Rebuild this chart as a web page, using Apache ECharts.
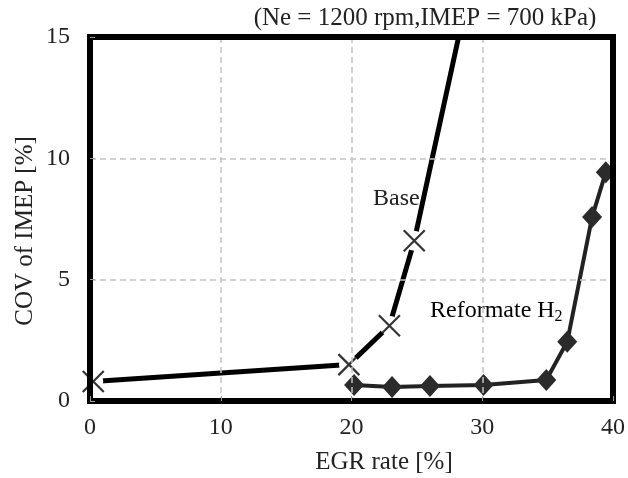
<!DOCTYPE html>
<html><head><meta charset="utf-8">
<script src="https://cdn.jsdelivr.net/npm/echarts@6/dist/echarts.min.js"></script>
<style>html,body{margin:0;padding:0;background:#fff}#c{width:628px;height:478px}</style>
</head><body><div id="c"></div>
<script>
const baseX = [0.25, 19.8, 22.9, 24.8, 29.0];
const baseY = [0.8, 1.5, 3.1, 6.6, 17.0];
const refX = [20.2, 23.1, 26.0, 30.1, 34.9, 36.5, 38.4, 39.45];
const refY = [0.66, 0.58, 0.62, 0.66, 0.87, 2.44, 7.58, 9.43];
const xTicks = [0, 10, 20, 30, 40];
const yTicks = [0, 5, 10, 15];
const titleText = '(Ne = 1200 rpm,IMEP = 700 kPa)';
const xName = 'EGR rate [%]';
const yName = 'COV of IMEP [%]';

const FONT = '"Liberation Serif", "DejaVu Serif", serif';
const pair = (xs, ys) => xs.map((x, i) => [x, ys[i]]);
const baseData = pair(baseX, baseY);
const refData = pair(refX, refY);
const xMark = 'path://M0,0L10,10M10,0L0,10';
const frameLine = {show: true, onZero: false, lineStyle: {color: '#000', width: 6, cap: 'square'}};
const xMin = xTicks[0], xMax = xTicks[xTicks.length - 1];
const yMin = yTicks[0], yMax = yTicks[yTicks.length - 1];

const chart = echarts.init(document.getElementById('c'), null, {renderer: 'canvas'});
chart.setOption({
  animation: false,
  backgroundColor: '#fff',
  grid: {left: 90, right: 13, top: 37, bottom: 77, show: false},
  xAxis: [{
    type: 'value', min: xMin, max: xMax, interval: 10, position: 'bottom',
    axisLine: frameLine, z: 10,
    axisTick: {show: true, inside: true, length: 5, lineStyle: {color: '#999'}},
    axisLabel: {margin: 15, fontFamily: FONT, fontSize: 24, color: '#222',
      formatter: v => xTicks.includes(v) ? String(v) : ''},
    splitLine: {show: true, lineStyle: {color: '#c4c4c4', type: [6, 4], width: 1.5}}
  }, {
    type: 'value', min: xMin, max: xMax, interval: 10, position: 'top',
    axisLine: frameLine, z: 10, axisTick: {show: false}, axisLabel: {show: false}, splitLine: {show: false}
  }],
  yAxis: [{
    type: 'value', min: yMin, max: yMax, interval: 5, position: 'left',
    axisLine: frameLine, z: 10,
    axisTick: {show: true, inside: true, length: 5, lineStyle: {color: '#999'}},
    axisLabel: {margin: 20, fontFamily: FONT, fontSize: 24, color: '#222',
      formatter: v => yTicks.includes(v) ? String(v) : ''},
    splitLine: {show: true, lineStyle: {color: '#c4c4c4', type: [6, 4], width: 1.5}}
  }, {
    type: 'value', min: yMin, max: yMax, interval: 5, position: 'right',
    axisLine: frameLine, z: 10, axisTick: {show: false}, axisLabel: {show: false}, splitLine: {show: false}
  }],
  series: [
    {
      name: 'Base', type: 'line', data: baseData, clip: true, z: 2,
      symbol: 'none', lineStyle: {color: '#000', width: 5}
    },
    {
      name: 'BaseGap', type: 'scatter', data: baseData, clip: true, z: 3,
      symbol: 'circle', symbolSize: 20, itemStyle: {color: '#fff', opacity: 1}
    },
    {
      name: 'BaseMarks', type: 'scatter', data: baseData, clip: true, z: 4,
      symbol: xMark, symbolSize: 21,
      itemStyle: {color: '#000', borderColor: '#000', borderWidth: 2.2}
    },
    {
      name: 'Reformate H2', type: 'line', data: refData, clip: true, z: 5,
      symbol: 'diamond', symbolSize: [20, 22], showAllSymbol: true,
      lineStyle: {color: '#222', width: 4},
      itemStyle: {color: '#2b2b2b', borderColor: '#2b2b2b', borderWidth: 0}
    }
  ],
  graphic: [
    {type: 'text', z: 20, style: {text: titleText, x: 425, y: 18, align: 'center', verticalAlign: 'middle', font: '25px ' + FONT, fill: '#222'}},
    {type: 'text', style: {text: xName, x: 384, y: 462, align: 'center', verticalAlign: 'middle', font: '25px ' + FONT, fill: '#222'}},
    {type: 'text', x: 25, y: 231, rotation: Math.PI / 2, style: {text: yName, x: 0, y: 0, align: 'center', verticalAlign: 'middle', font: '25px ' + FONT, fill: '#222'}},
    {type: 'text', style: {text: 'Base', x: 373, y: 199, align: 'left', verticalAlign: 'middle', font: '24px ' + FONT, fill: '#222'}},
    {type: 'text', style: {text: '{a|Reformate H}{b|2}', x: 430, y: 311, align: 'left', verticalAlign: 'middle',
      rich: {a: {fontFamily: FONT, fontSize: 24, color: '#222'}, b: {fontFamily: FONT, fontSize: 16, color: '#222', verticalAlign: 'bottom', padding: [12, 0, 0, 0]}}}}
  ]
});
</script></body></html>
